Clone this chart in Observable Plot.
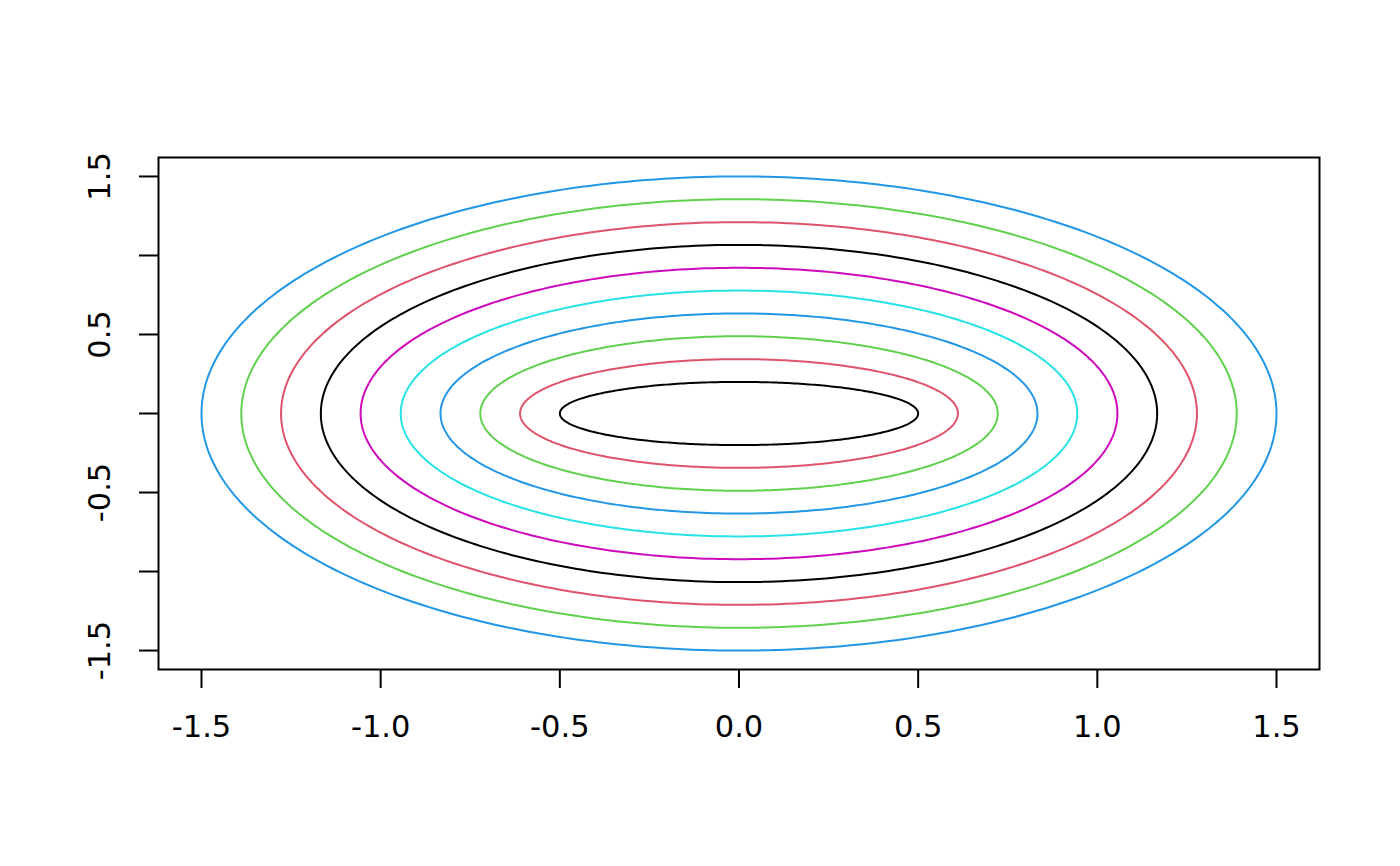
<!DOCTYPE html>
<html>
<head>
<meta charset="utf-8">
<script src="https://cdn.jsdelivr.net/npm/d3@7"></script>
<script src="https://cdn.jsdelivr.net/npm/@observablehq/plot@0.6"></script>
<style>
  html, body { margin: 0; padding: 0; background: #fff; }
  #chart svg { display: block; }
</style>
</head>
<body>
<div id="chart"></div>
<script>
// Ellipse semi-axes (x and y radii)
const semiX = [0.5, 0.611, 0.722, 0.833, 0.944, 1.056, 1.167, 1.278, 1.389, 1.5];
const semiY = [0.2, 0.344, 0.489, 0.633, 0.778, 0.922, 1.067, 1.211, 1.356, 1.5];
const ellipseColors = ["#000000", "#DF536B", "#61D04F", "#2297E6", "#28E2E5", "#CD0BBC", "#000000", "#DF536B", "#61D04F", "#2297E6"];
const xTicks = [-1.5, -1.0, -0.5, 0.0, 0.5, 1.0, 1.5];
const yTicks = [-1.5, -1.0, -0.5, 0.0, 0.5, 1.0, 1.5];
const yLabels = [-1.5, -0.5, 0.5, 1.5];

// Build ellipse outlines from the radii
const outline = [];
semiX.forEach((a, i) => {
  const b = semiY[i];
  for (let deg = 0; deg <= 360; deg += 1) {
    const t = deg * Math.PI / 180;
    outline.push({id: i, x: a * Math.cos(t), y: b * Math.sin(t), color: ellipseColors[i]});
  }
});

const fmt = d => d.toFixed(1);

const chart = Plot.plot({
  width: 1400,
  height: 866,
  marginLeft: 158,
  marginRight: 81,
  marginTop: 157,
  marginBottom: 197,
  style: {fontFamily: "DejaVu Sans", fontSize: "30.5px", background: "#fff", color: "#000"},
  x: {domain: [-1.62, 1.62], axis: null},
  y: {domain: [-1.62, 1.62], axis: null},
  color: {type: "identity"},
  marks: [
    Plot.line(outline, {x: "x", y: "y", z: "id", stroke: "color", strokeWidth: 2, curve: "linear"}),
    Plot.frame({stroke: "#000", strokeWidth: 2}),
    Plot.axisX(xTicks, {tickSize: 19, strokeWidth: 2, tickFormat: () => "", label: null}),
    Plot.axisY(yTicks, {tickSize: 19, strokeWidth: 2, tickFormat: () => "", label: null}),
    Plot.text(xTicks, {x: d => d, frameAnchor: "bottom", dy: 58, lineAnchor: "middle", text: fmt, fontSize: 30.5, fill: "#000"}),
    Plot.text(yLabels, {y: d => d, frameAnchor: "left", dx: -58, rotate: -90, lineAnchor: "middle", textAnchor: "middle", text: fmt, fontSize: 30.5, fill: "#000"})
  ]
});
document.getElementById("chart").appendChild(chart);
</script>
</body>
</html>
